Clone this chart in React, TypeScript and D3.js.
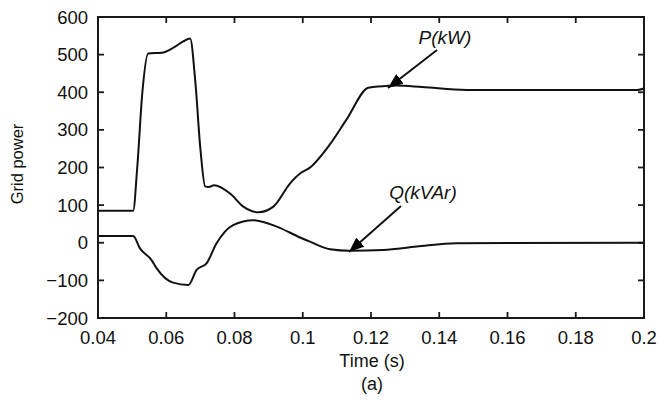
import React from "react";
import * as d3 from "d3";

const xTicks = [0.04, 0.06, 0.08, 0.1, 0.12, 0.14, 0.16, 0.18, 0.2];
const xTickLabels = ["0.04", "0.06", "0.08", "0.1", "0.12", "0.14", "0.16", "0.18", "0.2"];
const yTicks = [600, 500, 400, 300, 200, 100, 0, -100, -200];
const yTickLabels = ["600", "500", "400", "300", "200", "100", "0", "\u2212100", "\u2212200"];

const tP = [0.04, 0.0503, 0.0515, 0.053, 0.0547, 0.0587, 0.062, 0.065, 0.067, 0.0685, 0.07, 0.0714, 0.0725, 0.074, 0.0787, 0.0826, 0.087, 0.0914, 0.0963, 0.0992, 0.102, 0.108, 0.113, 0.1192, 0.122, 0.1275, 0.135, 0.148, 0.16, 0.18, 0.198, 0.2];
const P = [85, 85, 200, 400, 503, 505, 518, 535, 543, 430, 250, 150, 148, 153, 131, 96, 81, 96, 158, 184, 199, 262, 330, 412, 415, 418, 414, 406, 406, 406, 406, 410];

const tQ = [0.04, 0.0503, 0.0523, 0.0557, 0.0572, 0.062, 0.0665, 0.0689, 0.0718, 0.0747, 0.0796, 0.0855, 0.0924, 0.0992, 0.1021, 0.108, 0.1138, 0.1236, 0.1334, 0.145, 0.2];
const Q = [18, 18, -15, -46, -68, -106, -112, -72, -55, -2, 47, 60, 43, 14, 3, -17, -21, -19, -10, -1, 0];

const W = 658, H = 401;
const L = 98, R = 644, T = 17, B = 318;

export default function App() {
  const x = d3.scaleLinear().domain([0.04, 0.2]).range([L, R]);
  const y = d3.scaleLinear().domain([-200, 600]).range([B, T]);
  const line = d3.line<[number, number]>().x(d => x(d[0])).y(d => y(d[1])).curve(d3.curveMonotoneX);
  const pPath = line(tP.map((t, i) => [t, P[i]] as [number, number])) || "";
  const qPath = line(tQ.map((t, i) => [t, Q[i]] as [number, number])) || "";
  const font = "Liberation Sans, Arial, sans-serif";
  const tl = 6;
  return (
    <svg width={W} height={H} style={{ position: "absolute", left: 0, top: 0, background: "#fff" }} fontFamily={font}>
      <defs>
        <marker id="ah" viewBox="0 0 15 12" refX="15" refY="6" markerWidth="15" markerHeight="12" orient="auto" markerUnits="userSpaceOnUse">
          <path d="M0,0 L15,6 L0,12 z" fill="#000" />
        </marker>
      </defs>
      <rect x={L} y={T} width={R - L} height={B - T} fill="none" stroke="#1a1a1a" strokeWidth={2} />
      {xTicks.map((t, i) => (
        <g key={"x" + i}>
          <line x1={x(t)} x2={x(t)} y1={B} y2={B - tl} stroke="#1a1a1a" strokeWidth={1.8} />
          <line x1={x(t)} x2={x(t)} y1={T} y2={T + tl} stroke="#1a1a1a" strokeWidth={1.8} />
          <text x={x(t)} y={344} textAnchor="middle" fontSize={18.5} fill="#111">{xTickLabels[i]}</text>
        </g>
      ))}
      {yTicks.map((v, i) => (
        <g key={"y" + i}>
          <line x1={L} x2={L + tl} y1={y(v)} y2={y(v)} stroke="#1a1a1a" strokeWidth={1.8} />
          <line x1={R} x2={R - tl} y1={y(v)} y2={y(v)} stroke="#1a1a1a" strokeWidth={1.8} />
          <text x={88} y={y(v) + 6.5} textAnchor="end" fontSize={18.5} fill="#111">{yTickLabels[i]}</text>
        </g>
      ))}
      <path d={pPath} fill="none" stroke="#111" strokeWidth={2} />
      <path d={qPath} fill="none" stroke="#111" strokeWidth={2} />
      <text x={445} y={44} textAnchor="middle" fontSize={19} fontStyle="italic" fill="#111">P(kW)</text>
      <line x1={437} y1={50} x2={388} y2={88} stroke="#111" strokeWidth={2} markerEnd="url(#ah)" />
      <text x={423} y={199} textAnchor="middle" fontSize={19} fontStyle="italic" fill="#111">Q(kVAr)</text>
      <line x1={401} y1={206} x2={349} y2={252} stroke="#111" strokeWidth={2} markerEnd="url(#ah)" />
      <text transform={`translate(23,${164}) rotate(-90)`} textAnchor="middle" fontSize={16.5} fill="#111">Grid power</text>
      <text x={372} y={367} textAnchor="middle" fontSize={18} fill="#111">Time (s)</text>
      <text x={372} y={390} textAnchor="middle" fontSize={18} fill="#111">(a)</text>
    </svg>
  );
}
